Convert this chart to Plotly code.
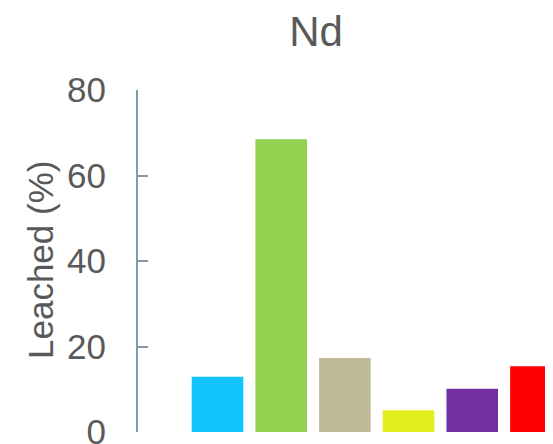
import plotly.graph_objects as go

# leached fraction of Nd per treatment
treatments = ["T1", "T2", "T3", "T4", "T5", "T6"]
leached = [12.9, 68.5, 17.3, 5.1, 10.1, 15.4]
bar_colors = ["#12c5ff", "#92d050", "#c0b996", "#e2ef1c", "#7030a0", "#ff0000"]

text_grey = "#595959"
axis_grey = "#7f9aab"

# the page body adds an 8px offset, so the figure is sized to the visible area
W, H = 545, 436

fig = go.Figure()
fig.add_trace(go.Bar(x=treatments, y=leached, marker=dict(color=bar_colors, line=dict(width=0))))

fig.update_layout(
    width=W, height=H,
    margin=dict(l=130, r=0, t=82, b=12),
    paper_bgcolor="white", plot_bgcolor="white",
    bargap=0.19,
    showlegend=False,
    font=dict(family="Liberation Sans, Arial", color=text_grey),
    title=dict(text="Nd", x=308 / W, xanchor="center", xref="container",
               y=1 - 23 / H, yanchor="middle", yref="container",
               font=dict(size=42, color=text_grey)),
)
fig.update_xaxes(range=[-1.248, 5.268], showticklabels=False, showline=False,
                 showgrid=False, zeroline=False, ticks="", automargin=False)
fig.update_yaxes(range=[0, 80], tickvals=[0, 20, 40, 60, 80], showgrid=False,
                 zeroline=False, showline=True, linecolor=axis_grey, linewidth=2,
                 ticks="inside", ticklen=10, tickwidth=2, tickcolor=axis_grey,
                 tickfont=dict(size=35, color=text_grey), ticklabelstandoff=23,
                 ticklabeloverflow="allow", automargin=False)

# y-axis title placed by hand
fig.add_annotation(text="Leached (%)", textangle=-90, xref="paper", yref="paper",
                   x=(32 - 130) / 415, y=(424 - 252) / 342, showarrow=False,
                   xanchor="center", yanchor="middle",
                   font=dict(size=35, color=text_grey))

fig.write_html("out.html")
